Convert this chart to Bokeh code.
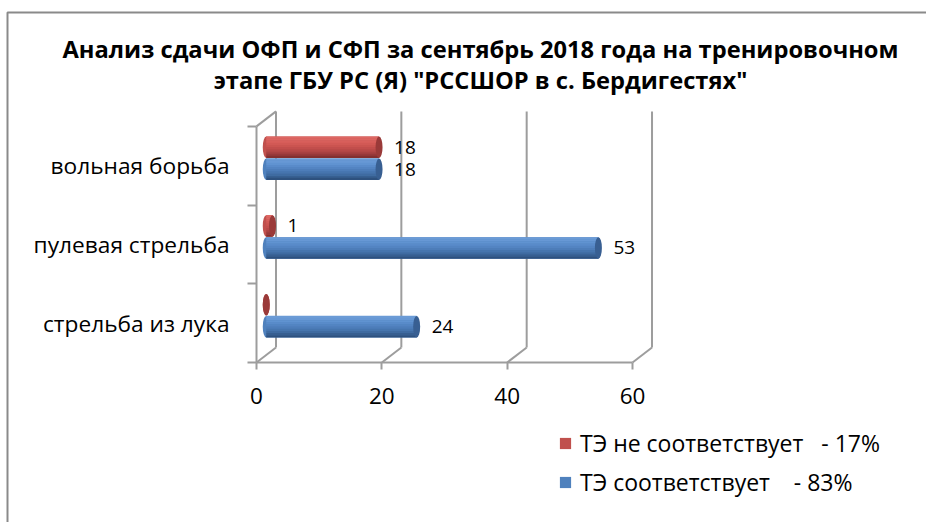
from bokeh.plotting import figure
from bokeh.models import (Range1d, FixedTicker, LinearAxis, Label,
                          Legend, LegendItem, ColumnDataSource)
from bokeh.core.properties import value
from bokeh.embed import file_html
from bokeh.resources import INLINE

# ---------------- data ----------------
categories = ["стрельба из лука", "пулевая стрельба", "вольная борьба"]   # bottom -> top
not_match = [0, 1, 18]     # ТЭ не соответствует
match = [24, 53, 18]       # ТЭ соответствует
x_ticks = [0, 20, 40, 60]
series_names = ["ТЭ не соответствует", "ТЭ соответствует"]
series_pct = ["- 17%", "- 83%"]
title_lines = ["Анализ сдачи ОФП и СФП за сентябрь 2018 года на тренировочном",
               'этапе ГБУ РС (Я) "РССШОР в с. Бердигестях"']

# ---------------- layout ----------------
W, H = 926, 522
X0_PX, Y0_PX = 256, 362      # pixel position of value 0 / bottom of category axis
KX = 6.267                   # px per value unit
KY = 78.7                    # px per category
FONT = "Open Sans"
GRID = "#9d9d9d"


def dx(px):
    return (px - X0_PX) / KX


def dy(py):
    return -0.5 + (Y0_PX - py) / KY


DEPTH_X = 19.5 / KX
DEPTH_Y = 15.0 / KY
BH = 21.5 / KY
CAP_W = 7.0 / KX

p = figure(width=W, height=H, output_backend="svg", toolbar_location=None,
           x_range=Range1d(dx(0), dx(W)), y_range=Range1d(dy(H), dy(0)),
           min_border=0, min_border_left=0, min_border_right=0,
           min_border_top=0, min_border_bottom=0,
           x_axis_location=None, y_axis_location=None)
p.title.visible = False
p.outline_line_color = None
p.grid.visible = False
p.background_fill_color = "white"
p.border_fill_color = "white"

ncat = len(categories)

# ---------------- outer chart border (left and top edges visible) ----------------
p.line(x=[dx(7), dx(7), dx(W + 20)], y=[dy(H + 20), dy(12), dy(12)],
       line_color="#8a8a8a", line_width=2)

# ---------------- axes (fixed inside the plot area) ----------------
xa = LinearAxis(ticker=FixedTicker(ticks=x_ticks, minor_ticks=[]),
                bounds=(x_ticks[0], x_ticks[-1]), fixed_location=-0.5)
xa.axis_line_color = GRID
xa.axis_line_width = 2
xa.major_tick_out = 7
xa.major_tick_in = 0
xa.major_tick_line_color = GRID
xa.major_tick_line_width = 2
xa.minor_tick_line_color = None
xa.major_label_text_font = FONT
xa.major_label_text_font_size = "22.5px"
xa.major_label_text_color = "black"
xa.major_label_standoff = 18
p.add_layout(xa, "below")

ya = LinearAxis(ticker=FixedTicker(ticks=list(range(ncat)),
                                   minor_ticks=[i - 0.5 for i in range(ncat + 1)]),
                bounds=(-0.5, ncat - 0.5), fixed_location=0)
ya.major_label_overrides = {i: c for i, c in enumerate(categories)}
ya.axis_line_color = GRID
ya.axis_line_width = 2
ya.major_tick_out = 0
ya.major_tick_in = 0
ya.major_tick_line_color = None
ya.minor_tick_out = 9
ya.minor_tick_in = 0
ya.minor_tick_line_color = GRID
ya.minor_tick_line_width = 2
ya.major_label_text_font = FONT
ya.major_label_text_font_size = "22.7px"
ya.major_label_text_color = "black"
ya.major_label_standoff = 18
p.add_layout(ya, "left")

# ---------------- 3D walls ----------------
x0s, y0s, x1s, y1s = [], [], [], []
for v in x_ticks:
    x0s += [v, v + DEPTH_X]
    y0s += [-0.5, -0.5 + DEPTH_Y]
    x1s += [v + DEPTH_X, v + DEPTH_X]
    y1s += [-0.5 + DEPTH_Y, ncat - 0.5 + DEPTH_Y]
x0s.append(0)
y0s.append(ncat - 0.5)
x1s.append(DEPTH_X)
y1s.append(ncat - 0.5 + DEPTH_Y)
p.segment(x0=x0s, y0=y0s, x1=x1s, y1=y1s, line_color=GRID, line_width=2)

# ---------------- bars (cylinders) ----------------
blue_stripes = ["#6b9bd6", "#6798d5", "#6093d1", "#598bca", "#5384c2",
                "#4d7db9", "#4675ae", "#3f6ba1", "#375f91", "#2e517e"]
red_stripes = ["#de6864", "#dc6561", "#d85f5b", "#d25955", "#cb5450",
               "#c24e4c", "#b74847", "#a84142", "#97393a", "#833030"]
series = [
    dict(vals=not_match, off=+0.14, main="#c0504d", stripes=red_stripes, cap="#9a3a39",
         idx=0, gap=3),
    dict(vals=match, off=-0.14, main="#4f81bd", stripes=blue_stripes, cap="#385f92",
         idx=1, gap=4),
]
base = DEPTH_X / 2
legend_items = []
for s in series:
    ys = [i + DEPTH_Y / 2 + s["off"] for i in range(ncat)]
    lefts = [base] * ncat
    rights = [base + v for v in s["vals"]]
    p.ellipse(x=lefts, y=ys, width=CAP_W, height=BH, fill_color=s["main"], line_color=None)
    main_r = p.hbar(y=ys, left=lefts, right=rights, height=BH, fill_color=s["main"], line_color=None)
    n = len(s["stripes"])
    for k, col in enumerate(s["stripes"]):
        yk = [y + BH / 2 - (k + 0.5) * BH / n for y in ys]
        p.hbar(y=yk, left=lefts, right=rights, height=BH / n * 1.08, fill_color=col, line_color=None)
    p.ellipse(x=rights, y=ys, width=CAP_W, height=BH, fill_color=s["cap"], line_color=None)
    lab_src = ColumnDataSource(dict(x=[r for r, v in zip(rights, s["vals"]) if v > 0],
                                    y=[y for y, v in zip(ys, s["vals"]) if v > 0],
                                    t=[str(v) for v in s["vals"] if v > 0]))
    p.text(x="x", y="y", text="t", source=lab_src, x_offset=15, text_align="left",
           text_baseline="middle", text_font=value(FONT), text_font_size="19px", text_color="black")
    legend_items.append(LegendItem(
        label=series_names[s["idx"]] + "\u00a0" * s["gap"] + series_pct[s["idx"]], renderers=[main_r]))

# ---------------- legend ----------------
legend = Legend(items=legend_items, location=(558, H - 498), orientation="vertical",
                border_line_color=None, background_fill_alpha=0, padding=0, margin=0,
                glyph_width=14, glyph_height=14, label_standoff=8, spacing=7,
                label_text_font=FONT, label_text_font_size="23px", label_text_color="black")
p.add_layout(legend, "center")

# ---------------- title ----------------
for i, line in enumerate(title_lines):
    p.add_layout(Label(x=dx(480), y=dy(48 + 31 * i), text=line, text_align="center",
                       text_baseline="alphabetic", text_font=FONT, text_font_style="bold",
                       text_font_size="23.7px", text_color="black"))

open("out.html", "w").write(file_html(p, INLINE))
